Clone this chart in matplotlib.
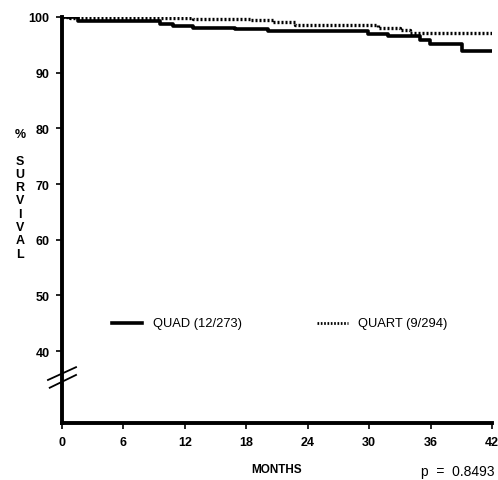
import matplotlib
matplotlib.use("Agg")
import matplotlib.pyplot as plt

# QUAD (solid) Kaplan-Meier steps
quad_t = [0, 1.6, 9.6, 10.8, 12.8, 16.9, 20.1, 29.9, 31.8, 35.0, 35.9, 39.1, 42.0]
quad_s = [100, 99.3, 98.7, 98.3, 98.1, 97.9, 97.4, 97.0, 96.5, 95.9, 95.2, 93.9, 93.9]
# QUART (dotted)
quart_t = [0, 0.8, 12.8, 18.4, 20.6, 22.8, 30.9, 33.0, 34.0, 42.0]
quart_s = [100, 99.8, 99.6, 99.4, 99.1, 98.6, 98.0, 97.7, 97.1, 97.1]

xticks = [0, 6, 12, 18, 24, 30, 36, 42]
yticks = [40, 50, 60, 70, 80, 90, 100]
label_quad = "QUAD (12/273)"
label_quart = "QUART (9/294)"
ylabel_letters = ["%", "", "S", "U", "R", "V", "I", "V", "A", "L"]
pval = "p  =  0.8493"

plt.rcParams['font.family'] = ['Liberation Sans', 'DejaVu Sans']
fig = plt.figure(figsize=(4.98, 4.81), dpi=100)
ax = fig.add_axes([62/498, 1-424/481, 430/498, 406/481])
ax.set_xlim(0, 42)
ax.set_ylim(27.07, 100)

ax.step(quad_t, quad_s, where='post', color='black', lw=2.6, solid_capstyle='butt')
ax.step(quart_t, quart_s, where='post', color='black', lw=2.4, linestyle=(0, (0.6, 0.6)))

for s in ['top', 'right']:
    ax.spines[s].set_visible(False)
for s in ['left', 'bottom']:
    ax.spines[s].set_linewidth(2.8)
ax.set_xticks(xticks)
ax.set_yticks(yticks)
ax.set_xticklabels([str(v) for v in xticks], fontsize=9, fontweight='bold')
ax.set_yticklabels([str(v) for v in yticks], fontsize=9, fontweight='bold')
ax.tick_params(axis='both', direction='out', length=4, width=1.2, pad=5)

# axis break marks
ax.plot([-1.37, 1.37], [34.8, 37.1], color='black', lw=1.3, clip_on=False)
ax.plot([-1.2, 1.37], [33.4, 35.7], color='black', lw=1.3, clip_on=False)

# vertical y label
y0 = 1 - 135/481
for i, ch in enumerate(ylabel_letters):
    if ch:
        fig.text(20/498, y0 - i*13.3/481, ch, ha='center', va='center', fontsize=9, fontweight='bold')

# legend
ax.plot([4.9, 7.8], [45, 45], color='black', lw=2.6)
ax.text(8.9, 45, label_quad, fontsize=9.3, va='center', ha='left')
ax.plot([24.9, 27.9], [45, 45], color='black', lw=2.0, linestyle=(0, (0.6, 0.6)))
ax.text(28.9, 45, label_quart, fontsize=9.3, va='center', ha='left')

fig.text(277/498, 1-470/481, "MONTHS", ha='center', va='center', fontsize=8.5, fontweight='bold')
fig.text(494/498, 1-472/481, pval, ha='right', va='center', fontsize=10)

fig.savefig("out.png", dpi=100)
